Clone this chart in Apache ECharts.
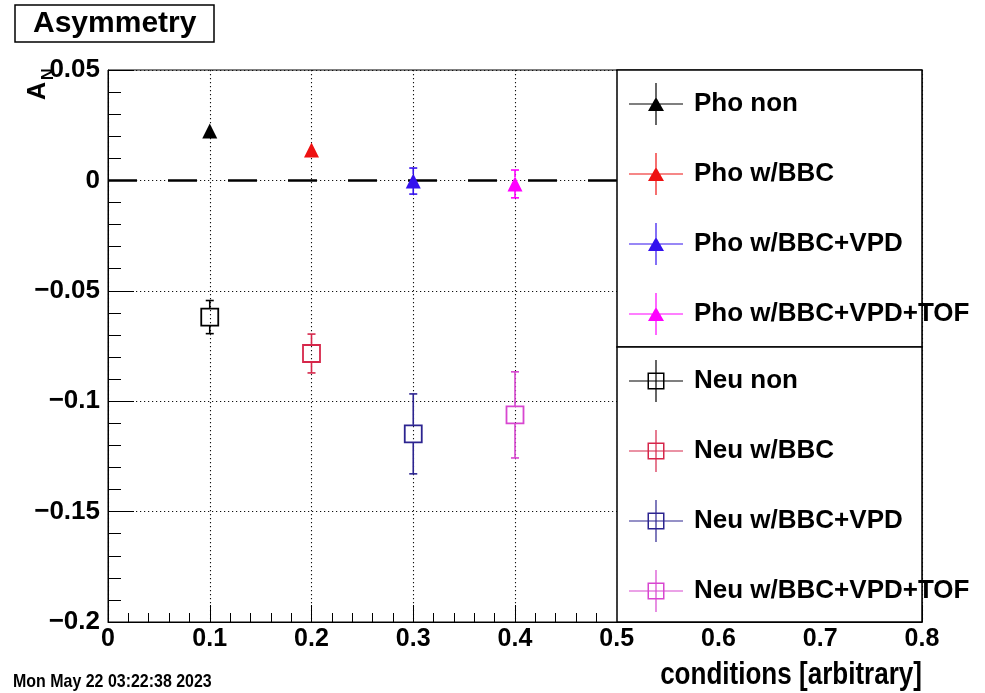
<!DOCTYPE html>
<html>
<head>
<meta charset="utf-8">
<script src="https://cdn.jsdelivr.net/npm/echarts@6/dist/echarts.min.js"></script>
<style>html,body{margin:0;padding:0;background:#fff}#main{width:985px;height:693px}</style>
</head>
<body>
<div id="main"></div>
<script>
// data
var xVals = [0.1, 0.2, 0.3, 0.4];
var phoNames = ['Pho non', 'Pho w/BBC', 'Pho w/BBC+VPD', 'Pho w/BBC+VPD+TOF'];
var neuNames = ['Neu non', 'Neu w/BBC', 'Neu w/BBC+VPD', 'Neu w/BBC+VPD+TOF'];
var phoVals = [0.0224, 0.0138, -0.0003, -0.0016];
var phoErrs = [0.0025, 0.0025, 0.0059, 0.0063];
var neuVals = [-0.0619, -0.0784, -0.1148, -0.1062];
var neuErrs = [0.0075, 0.0088, 0.0181, 0.0195];
var phoColors = ['#000000', '#ee1111', '#3311ee', '#ff00ff'];
var neuColors = ['#000000', '#d6264a', '#2c2490', '#d846d0'];
var zeroLine = [[0, 0], [0.5, 0]];
var xRange = [0, 0.8, 0.1];
var yRange = [-0.2, 0.05, 0.05];

var chart = echarts.init(document.getElementById('main'));
var bold = '"Liberation Sans", Arial, sans-serif';

var triIcon = 'path://M0 20.4H54V21.6H0Z M26.4 0H27.6V42H26.4Z M27 14L35 28L19 28Z';
var boxIcon = 'path://M0 20.4H54V21.6H0Z M26.4 0H27.6V42H26.4Z M18.5 12.5H35.5V29.5H18.5Z M20 14V28H34V14Z';

function tickFmt(v) {
  var s = String(+v.toFixed(3));
  return s.replace('-', '\u2212');
}

// error bars, leaving a hole where a hollow marker sits
function errRender(gap) {
  return function (params, api) {
    var x = api.value(0), y = api.value(1), e = api.value(2);
    var c = api.coord([x, y]);
    var t = api.coord([x, y + e]);
    var b = api.coord([x, y - e]);
    var st = {stroke: api.visual('color'), lineWidth: 1.6};
    var kids = [];
    if (c[1] - gap > t[1]) {
      kids.push({type: 'line', shape: {x1: c[0], y1: t[1], x2: c[0], y2: c[1] - gap}, style: st});
      kids.push({type: 'line', shape: {x1: c[0] - 4, y1: t[1], x2: c[0] + 4, y2: t[1]}, style: st});
    }
    if (b[1] > c[1] + gap) {
      kids.push({type: 'line', shape: {x1: c[0], y1: c[1] + gap, x2: c[0], y2: b[1]}, style: st});
      kids.push({type: 'line', shape: {x1: c[0] - 4, y1: b[1], x2: c[0] + 4, y2: b[1]}, style: st});
    }
    return {type: 'group', children: kids};
  };
}

var series = [];
series.push({
  type: 'line', data: zeroLine, symbol: 'none', z: 1, silent: true,
  lineStyle: {color: '#000', width: 2.5, type: [29, 31]}
});
for (var i = 0; i < 4; i++) {
  series.push({
    type: 'custom', name: 'perr' + i, renderItem: errRender(7),
    itemStyle: {color: phoColors[i]}, z: 2,
    data: [[xVals[i], phoVals[i], phoErrs[i]]]
  });
  series.push({
    type: 'scatter', name: phoNames[i], symbol: 'triangle', symbolSize: 15, z: 3,
    itemStyle: {color: phoColors[i], opacity: 1},
    data: [[xVals[i], phoVals[i]]]
  });
  series.push({
    type: 'custom', name: 'nerr' + i, renderItem: errRender(9),
    itemStyle: {color: neuColors[i]}, z: 2,
    data: [[xVals[i], neuVals[i], neuErrs[i]]]
  });
  series.push({
    type: 'scatter', name: neuNames[i], symbol: 'rect', symbolSize: 17, z: 3,
    itemStyle: {color: 'rgba(0,0,0,0)', borderColor: neuColors[i], borderWidth: 1.8, opacity: 1},
    data: [[xVals[i], neuVals[i]]]
  });
}

function legendData(names, colors, icon) {
  return names.map(function (n, k) {
    return {name: n, icon: icon, itemStyle: {color: colors[k], borderWidth: 0}};
  });
}

var legendCommon = {
  orient: 'vertical', left: 629, padding: 0, itemWidth: 54, itemHeight: 42, itemGap: 28,
  selectedMode: false, z: 10,
  textStyle: {fontFamily: bold, fontWeight: 'bold', fontSize: 26, color: '#000', padding: [0, 0, 0, 6]}
};

var option = {
  animation: false,
  backgroundColor: '#fff',
  title: {
    text: 'Asymmetry', left: 15, top: 5, padding: [3, 18], borderColor: '#000', borderWidth: 1.5,
    backgroundColor: '#fff',
    textStyle: {fontFamily: bold, fontWeight: 'bold', fontSize: 30, lineHeight: 31, color: '#000'}
  },
  grid: {left: 108, right: 63, top: 70, bottom: 71, show: true, borderColor: '#000', borderWidth: 1, backgroundColor: 'transparent'},
  xAxis: {
    type: 'value', min: xRange[0], max: xRange[1], interval: xRange[2],
    axisLine: {show: true, onZero: false, lineStyle: {color: '#000', width: 1}},
    axisTick: {show: true, inside: true, length: 17, lineStyle: {color: '#000', width: 1}},
    minorTick: {show: true, splitNumber: 5, length: 9, lineStyle: {color: '#000', width: 1}},
    splitLine: {show: true, lineStyle: {color: '#111', width: 1.1, type: [1.2, 2.8]}},
    axisLabel: {formatter: tickFmt, margin: 5, showMinLabel: true, showMaxLabel: true,
      fontFamily: bold, fontWeight: 'bold', fontSize: 25, color: '#000'}
  },
  yAxis: {
    type: 'value', min: yRange[0], max: yRange[1], interval: yRange[2],
    axisLine: {show: true, onZero: false, lineStyle: {color: '#000', width: 1}},
    axisTick: {show: true, inside: true, length: 26, lineStyle: {color: '#000', width: 1}},
    minorTick: {show: true, splitNumber: 5, length: 13, lineStyle: {color: '#000', width: 1}},
    splitLine: {show: true, lineStyle: {color: '#111', width: 1.1, type: [1.2, 2.8]}},
    axisLabel: {formatter: tickFmt, margin: 8, showMinLabel: true, showMaxLabel: true,
      fontFamily: bold, fontWeight: 'bold', fontSize: 26, color: '#000'}
  },
  legend: [
    Object.assign({}, legendCommon, {top: 83, data: legendData(phoNames, phoColors, triIcon)}),
    Object.assign({}, legendCommon, {top: 360, data: legendData(neuNames, neuColors, boxIcon)})
  ],
  graphic: [
    {type: 'rect', z: 5, shape: {x: 617, y: 70, width: 305, height: 277},
      style: {fill: '#fff', stroke: '#000', lineWidth: 1.5}},
    {type: 'rect', z: 5, shape: {x: 617, y: 347, width: 305, height: 275},
      style: {fill: '#fff', stroke: '#000', lineWidth: 1.5}},
    {type: 'text', x: 51, y: 100, rotation: Math.PI / 2, z: 6,
      style: {text: 'A', font: 'bold 25px ' + bold, fill: '#000', align: 'left', verticalAlign: 'bottom'}},
    {type: 'text', x: 57, y: 80, rotation: Math.PI / 2, z: 6,
      style: {text: 'N', font: 'bold 16px ' + bold, fill: '#000', align: 'left', verticalAlign: 'bottom'}},
    {type: 'text', x: 922, y: 660, scaleX: 0.84, z: 6,
      style: {text: 'conditions [arbitrary]', font: 'bold 31px ' + bold, fill: '#000', align: 'right', verticalAlign: 'top'}},
    {type: 'text', x: 13, y: 672, scaleX: 0.84, z: 6,
      style: {text: 'Mon May 22 03:22:38 2023', font: 'bold 19px ' + bold, fill: '#000', align: 'left', verticalAlign: 'top'}}
  ],
  series: series
};

chart.setOption(option);
</script>
</body>
</html>
